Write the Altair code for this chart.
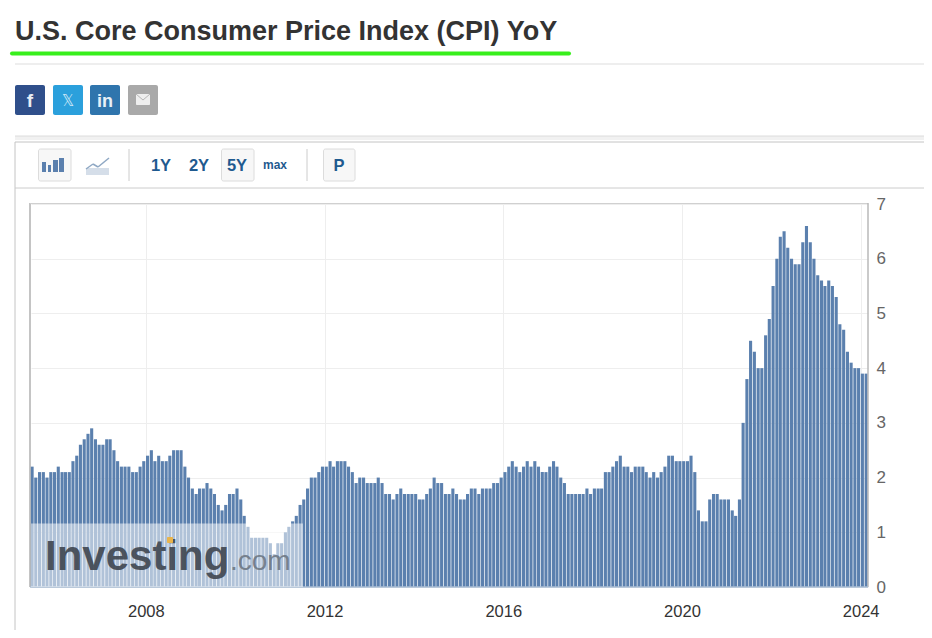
import altair as alt
import pandas as pd

values_a = [2.2,2.0,2.1,2.1,2.0,2.1,2.1,2.2,2.1,2.1,
            2.1,2.3,2.4,2.6,2.7,2.8,2.9,2.7,2.6,2.6,
            2.7,2.7,2.5,2.3,2.2,2.2,2.2,2.1,2.1,2.2,
            2.3,2.4,2.5,2.3,2.4,2.3,2.3,2.4,2.5,2.5,
            2.5,2.2,2.0,1.8,1.7,1.8,1.8,1.9,1.8,1.7,
            1.5,1.4,1.5,1.7,1.7,1.8,1.6,1.3,1.1,0.9,
            0.9,0.9,0.9,0.9,0.8,0.6,0.8,0.8,1.0,1.1,
            1.2,1.3,1.5,1.6,1.8,2.0,2.0,2.1]
values_b = [2.2,2.2,2.3,2.2,2.3,2.3,2.3,2.2,2.1,1.9,
            2.0,2.0,1.9,1.9,1.9,2.0,1.9,1.7,1.7,1.6,
            1.7,1.8,1.7,1.7,1.7,1.7,1.6,1.6,1.7,1.8,
            2.0,1.9,1.9,1.7,1.7,1.8,1.7,1.6,1.6,1.7,
            1.8,1.8,1.7,1.8,1.8,1.8,1.9,1.9,2.0,2.1,
            2.2,2.3,2.2,2.1,2.2,2.3,2.2,2.3,2.2,2.1,
            2.1,2.2,2.3,2.2,2.0,1.9,1.7,1.7,1.7,1.7,
            1.7,1.8,1.7,1.8,1.8]
values_c = [1.8,2.1,2.1,2.2,2.3,2.4,2.2,2.2,2.1,2.2,
            2.2,2.2,2.1,2.0,2.1,2.0,2.1,2.2,2.4,2.4,
            2.3,2.3,2.3,2.3,2.4,2.1,1.4,1.2,1.2,1.6,
            1.7,1.7,1.6,1.6,1.6,1.4,1.3,1.6,3.0]
values_d = [3.8,4.5,4.3,4.0,4.0,4.6,4.9,5.5,6.0,6.4,
            6.5,6.2,6.0,5.9,5.9,6.3,6.6,6.3,6.0,5.7,
            5.6,5.5,5.6,5.5,5.3,4.8,4.7,4.3,4.1,4.0,
            4.0,3.9,3.9]
values = values_a + values_b + values_c + values_d
dates = pd.date_range(end="2024-02-15", periods=len(values), freq=pd.DateOffset(months=1))
year_ticks = ["2008-01-01", "2012-01-01", "2016-01-01", "2020-01-01", "2024-01-01"]
y_ticks = [0, 1, 2, 3, 4, 5, 6, 7]
title = "U.S. Core Consumer Price Index (CPI) YoY"
ranges = ["1Y", "2Y", "5Y"]

OX, OY = 31, 204
FONT = "Liberation Sans"
one = alt.Data(values=[{"a": 1}])

def rect(x0, x1, y0, y1, fill, stroke=None, radius=0, opacity=1):
    kw = dict(fill=fill, cornerRadius=radius, opacity=opacity)
    if stroke:
        kw.update(stroke=stroke, strokeWidth=1)
    return alt.Chart(one).mark_rect(**kw).encode(
        x=alt.value(x0 - OX), x2=alt.value(x1 - OX),
        y=alt.value(y0 - OY), y2=alt.value(y1 - OY))

def seg(x0, y0, x1, y1, color, w=1, cap="butt"):
    return alt.Chart(one).mark_rule(color=color, strokeWidth=w, strokeCap=cap).encode(
        x=alt.value(x0 - OX), x2=alt.value(x1 - OX),
        y=alt.value(y0 - OY), y2=alt.value(y1 - OY))

def label(x, y, s, size, color, weight="normal", align="left", opacity=1, font=FONT):
    return alt.Chart(one).mark_text(text=s, fontSize=size, color=color, fontWeight=weight,
                                    align=align, baseline="alphabetic", font=font,
                                    opacity=opacity).encode(
        x=alt.value(x - OX), y=alt.value(y - OY))

BLUE = "#1f5a8f"
chrome = [
    label(15, 40, title, 27, "#333333", "bold"),
    seg(12, 53.5, 569, 53.5, "#38ef1c", 4, "round"),
    seg(15, 64, 924, 64, "#dddddd"),
    rect(15, 45, 85, 115, "#2f4f8b", radius=2),
    label(30, 107, "f", 19, "#e8edf5", "bold", "center"),
    rect(53, 83, 85, 115, "#2ba0dc", radius=2),
    label(68, 106, "𝕏", 15, "#cfe8f7", "normal", "center", font="DejaVu Sans"),
    rect(90, 120, 85, 115, "#2f75ad", radius=2),
    label(105, 107, "in", 18, "#e8f0f7", "bold", "center"),
    rect(128, 158, 85, 115, "#a9a9a9", radius=2),
    rect(136, 150, 94, 105, "#eeeeee", radius=1),
    seg(136, 94, 143, 100, "#b5b5b5"),
    seg(143, 100, 150, 94, "#b5b5b5"),
    rect(15, 924, 136, 140, "#f1f1f1"),
    seg(15, 136, 924, 136, "#dcdcdc"),
    seg(15, 142, 924, 142, "#c4c4c4"),
    seg(15, 142, 15, 630, "#c4c4c4"),
    seg(15, 188, 924, 188, "#cccccc"),
    rect(38.5, 71, 149, 181, "#f7f7f7", "#dcdcdc", 2),
    rect(42, 46, 162, 172, "#5b80ae"),
    rect(48, 51, 165, 172, "#5b80ae"),
    rect(53, 58, 160, 172, "#5b80ae"),
    rect(59, 64, 158, 172, "#5b80ae"),
    rect(86, 109, 168, 175, "#d5dee9"),
    seg(86, 169, 93, 164, "#8fa8c4", 1.5),
    seg(93, 164, 98, 167, "#8fa8c4", 1.5),
    seg(98, 167, 109, 158, "#8fa8c4", 1.5),
    seg(129, 149, 129, 181, "#cccccc"),
    rect(221.5, 254, 149, 181, "#f7f7f7", "#dcdcdc", 2),
    label(161, 171, ranges[0], 16.5, BLUE, "bold", "center"),
    label(199, 171, ranges[1], 16.5, BLUE, "bold", "center"),
    label(237, 171, ranges[2], 16.5, BLUE, "bold", "center"),
    label(275, 169, "max", 12, BLUE, "bold", "center"),
    seg(307, 149, 307, 181, "#cccccc"),
    rect(323.5, 355, 149, 181, "#f7f7f7", "#dcdcdc", 2),
    label(339, 171, "P", 16.5, BLUE, "bold", "center"),
]

df = pd.DataFrame({"date": dates, "value": values})
bars = alt.Chart(df).mark_bar(size=3.1, color="#5b80ae").encode(
    x=alt.X("date:T",
            scale=alt.Scale(domain=["2005-06-06", "2024-03-01"], nice=False, padding=0),
            axis=alt.Axis(values=year_ticks, format="%Y", title=None, grid=True, gridColor="#eeeeee",
                          domain=False, ticks=False, labelFont=FONT, labelFontSize=16.5,
                          labelColor="#333333", labelPadding=16, labelFlush=False,
                          labelOverlap=False)),
    y=alt.Y("value:Q",
            scale=alt.Scale(domain=[0, 7], nice=False),
            axis=alt.Axis(values=y_ticks, orient="right", title=None, grid=True, gridColor="#eeeeee",
                          domain=False, ticks=False, labelFont=FONT, labelFontSize=17,
                          labelColor="#666666", labelPadding=8, labelFlush=False,
                          labelOverlap=False)),
)

frame = [
    seg(30, 203, 30, 587, "#b0b0b0", 1.5),
    seg(30, 203.5, 868, 203.5, "#d0d0d0"),
    seg(868, 203, 868, 587, "#b8b8b8", 1.5),
    seg(30, 587, 868, 587, "#a9bdd3", 1.5),
]
mark = [
    rect(31, 303, 523.5, 587, "#ffffff", opacity=0.52),
    label(45, 570, "Investing", 42, "#3f4650", "bold", opacity=0.9),
    label(230, 570, ".com", 28, "#6a7480", "normal", opacity=0.85),
    rect(167, 173, 537, 543, "#e9b44c", radius=1),
]

chart = alt.layer(*chrome, bars, *frame, *mark).properties(
    width=837, height=383,
    padding={"left": 23, "top": 196, "right": 56, "bottom": 43},
    autosize=alt.AutoSizeParams(type="none", contains="content"),
    background="#ffffff",
).configure_view(stroke=None)

chart.save("out.html", embed_options={"renderer": "svg", "actions": False})
